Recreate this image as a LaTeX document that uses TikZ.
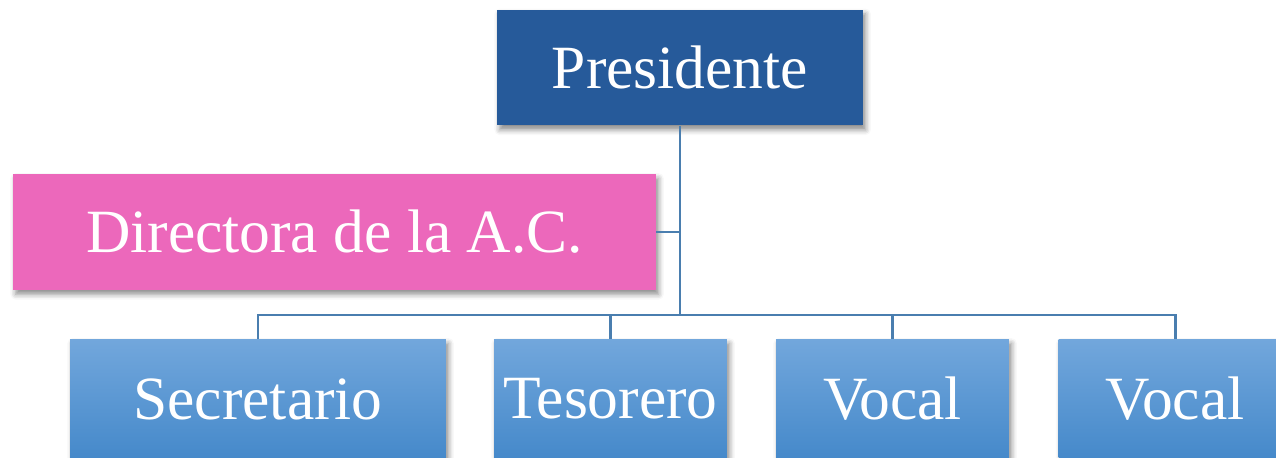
\documentclass[tikz,border=0pt]{standalone}
\usepackage{fontspec}
\setmainfont{Liberation Serif}
\usetikzlibrary{positioning,shadows.blur}
\definecolor{presblue}{RGB}{38,90,154}
\definecolor{dirpink}{RGB}{236,104,187}
\definecolor{boxtop}{RGB}{114,167,220}
\definecolor{boxbot}{RGB}{69,137,202}
\definecolor{linkblue}{RGB}{74,126,175}
\begin{document}
\begin{tikzpicture}[x=0.02cm,y=-0.02cm,font=\fontsize{35}{40}\selectfont]
			\tikzset{box/.style={rectangle,inner sep=0pt,minimum height=2.32cm,text=white,
					blur shadow={shadow xshift=1.5pt,shadow yshift=-2.5pt,shadow blur radius=3pt,shadow opacity=45}},
				member/.style={box,minimum height=2.4cm,top color=boxtop,bottom color=boxbot},
				link/.style={draw=linkblue,line width=1.7pt}}
			\useasboundingbox (0,0) rectangle (1276,457);
			\clip (0,0) rectangle (1276,457);
			\node[box,fill=presblue,minimum width=7.32cm] (pres) at (680,67.5) {Presidente};
			\node[box,fill=dirpink,minimum width=12.86cm] (dir) at (334.5,232) {Directora de la A.C.};
			\coordinate (hub) at (680,315);
			\draw[link] (pres.south) -- (hub);
			\draw[link] (dir.east) -- (dir.east -| hub);
			\foreach \n/\x/\w/\t in {sec/258/7.52cm/Secretario,tes/610.5/4.66cm/Tesorero,
					vocA/892.5/4.66cm/Vocal,vocB/1175/4.66cm/Vocal}{
					\node[member,minimum width=\w] (\n) at (\x,399) {\t};
					\draw[link] (\n.north) -- (\n.north |- hub) -- (hub);}
		\end{tikzpicture}
\end{document}
